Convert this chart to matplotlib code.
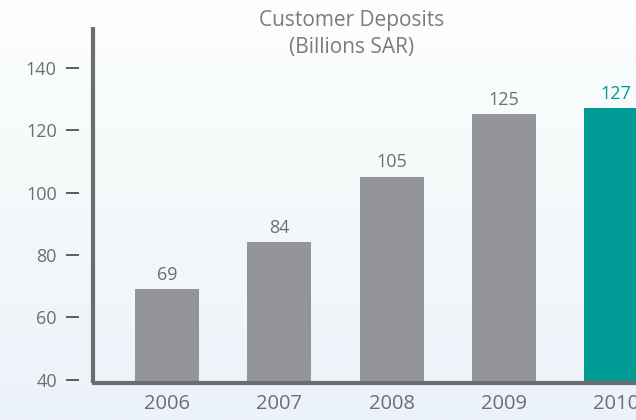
import matplotlib
matplotlib.use("Agg")
import matplotlib.pyplot as plt
import numpy as np
from matplotlib.colors import LinearSegmentedColormap

years = ["2006", "2007", "2008", "2009", "2010"]
deposits = [69, 84, 105, 125, 127]
yticks = [40, 60, 80, 100, 120, 140]
title = "Customer Deposits\n(Billions SAR)"

plt.rcParams['font.family'] = ['Open Sans', 'DejaVu Sans']

W, H = 636, 420
fig = plt.figure(figsize=(W / 100, H / 100), dpi=100)

# background gradient
bg = fig.add_axes([0, 0, 1, 1], zorder=-10)
cmap = LinearSegmentedColormap.from_list("bg", ["#fdfefe", "#f3f9fa", "#ecf2f9"])
grad = np.linspace(0, 1, 256).reshape(-1, 1)
bg.imshow(grad, aspect="auto", cmap=cmap, extent=[0, 1, 0, 1], origin="upper")
bg.set_axis_off()

# axes: left 79px, right 636px, top 27px, bottom 383px
ax = fig.add_axes([79 / W, (H - 383) / H, (W - 79) / W, (383 - 27) / H])
ax.patch.set_alpha(0)

x = np.arange(len(years))
colors = ["#939598"] * (len(years) - 1) + ["#009b95"]
ax.bar(x, deposits, width=0.57, color=colors, zorder=2)

ax.set_xlim(-0.786, 4.178)
ax.set_ylim(39, 153)

ax.set_yticks(yticks)
ax.set_yticklabels([str(t) for t in yticks])
ax.set_xticks(x)
ax.set_xticklabels(years)

for s in ax.spines.values():
    s.set_visible(False)

ax.tick_params(axis="y", direction="out", length=9.5, width=1.1, color="#333333",
               pad=6.5, labelsize=13, labelcolor="#6d6e71")
ax.tick_params(axis="x", length=0, pad=8, labelsize=14.5, labelcolor="#6d6e71")

# axis lines (L-shaped, detached from tick marks)
axis_x = 14 / (W - 79)
ax.plot([axis_x, axis_x], [0, 1.0], transform=ax.transAxes, color="#6d6d70",
        lw=3, clip_on=False, solid_capstyle="butt", zorder=3)
ax.plot([axis_x - 0.002, 1.0], [0, 0], transform=ax.transAxes, color="#6d6d70",
        lw=3, clip_on=False, solid_capstyle="butt", zorder=3)

for xi, v, c in zip(x, deposits, colors):
    tc = "#009b95" if c == "#009b95" else "#6d6e71"
    ax.annotate(str(v), (xi, v), xytext=(0, 4), textcoords="offset points",
                ha="center", va="bottom", fontsize=13, color=tc)

fig.text(352 / W, 1 - 10 / H, title, ha="center", va="top", fontsize=15,
         color="#7a7b7e", linespacing=1.35)

fig.savefig("out.png", dpi=100)
